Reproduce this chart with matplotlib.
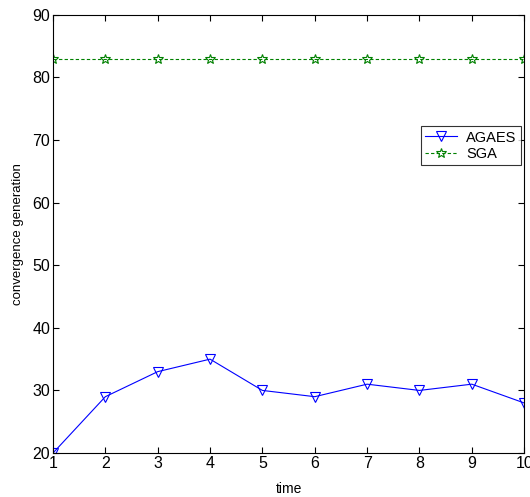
#!/usr/bin/env python3

# Convergence generation of AGAES vs SGA over 10 runs.

import matplotlib
matplotlib.use('Agg')
import matplotlib.pyplot as plt

plt.rcParams['font.family'] = ['Liberation Sans', 'DejaVu Sans']

times = [1, 2, 3, 4, 5, 6, 7, 8, 9, 10]
agaes = [20, 29, 33, 35, 30, 29, 31, 30, 31, 28]
sga = [83, 83, 83, 83, 83, 83, 83, 83, 83, 83]

fig = plt.figure(figsize=(5.3, 4.97), dpi=100)
ax = fig.add_axes([0.1, 0.0885, 0.889, 0.8815])

ax.plot(times, agaes, color='#0000ff', linewidth=0.8, marker='v',
        markersize=7, markerfacecolor='none', markeredgecolor='#0000ff',
        markeredgewidth=0.8, label='AGAES')
ax.plot(times, sga, color='#008000', linewidth=0.8, linestyle='--',
        dashes=(3, 2), marker='*', markersize=7, markerfacecolor='none',
        markeredgecolor='#008000', markeredgewidth=0.8, label='SGA')

ax.set_xlim(1, 10)
ax.set_ylim(20, 90)
ax.set_xticks(times)
ax.set_yticks(range(20, 91, 10))
ax.tick_params(direction='in', top=True, right=True, length=4,
               labelsize=11.5, width=0.8, pad=2)

ax.set_xlabel('time', fontsize=10, labelpad=8)
ax.set_ylabel('convergence generation', fontsize=9.5, labelpad=6)

leg = ax.legend(loc='upper left', bbox_to_anchor=(0.781, 0.746),
                fontsize=10.5, frameon=True, fancybox=False,
                edgecolor='black', borderpad=0.3, labelspacing=0.15,
                handlelength=2.2, handletextpad=0.6, borderaxespad=0)
leg.get_frame().set_linewidth(0.8)

fig.savefig('out.png', dpi=100)
